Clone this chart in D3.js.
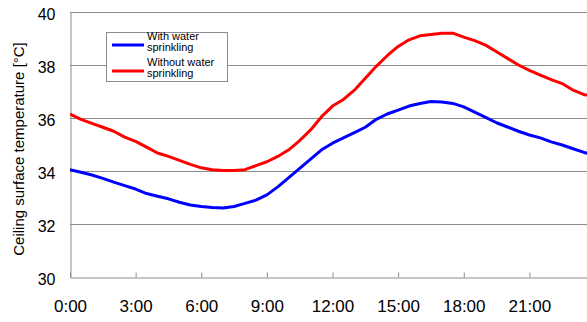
<!DOCTYPE html>
<html>
<head>
<meta charset="utf-8">
<script src="https://cdn.jsdelivr.net/npm/d3@7"></script>
<style>
  body { margin: 0; background: #fff; }
  svg { display: block; font-family: "Liberation Sans", Arial, sans-serif; }
</style>
</head>
<body>
<svg width="587" height="322"></svg>
<script>
// hours of the day, read every 30 minutes
const hours = [0, 0.5, 1, 1.5, 2, 2.5, 3, 3.5, 4, 4.5, 5, 5.5, 6, 6.5, 7, 7.5, 8, 8.5, 9, 9.5, 10, 10.5, 11, 11.5,
    12, 12.5, 13, 13.5, 14, 14.5, 15, 15.5, 16, 16.5, 17, 17.5, 18, 18.5, 19, 19.5, 20, 20.5, 21, 21.5, 22, 22.5, 23, 23.5, 24];
const withWater = [34.05, 33.95, 33.85, 33.72, 33.58, 33.45, 33.32, 33.15, 33.05, 32.95, 32.82, 32.72, 32.66, 32.62, 32.6, 32.66, 32.78, 32.9,
    33.1, 33.4, 33.75, 34.1, 34.45, 34.8, 35.05, 35.25, 35.45, 35.65, 35.95, 36.15, 36.3, 36.45, 36.55, 36.62, 36.6, 36.55,
    36.42, 36.22, 36.02, 35.82, 35.66, 35.5, 35.36, 35.25, 35.1, 34.98, 34.84, 34.7, 34.6];
const withoutWater = [36.15, 35.95, 35.8, 35.65, 35.5, 35.28, 35.12, 34.9, 34.68, 34.55, 34.4, 34.25, 34.12, 34.05, 34.02, 34.02, 34.05, 34.2,
    34.35, 34.55, 34.8, 35.15, 35.55, 36.05, 36.45, 36.7, 37.05, 37.5, 37.95, 38.35, 38.7, 38.95, 39.1, 39.15, 39.2, 39.2,
    39.05, 38.92, 38.75, 38.5, 38.25, 38.0, 37.8, 37.62, 37.45, 37.3, 37.05, 36.88, 36.85];
const xTicks = [0, 3, 6, 9, 12, 15, 18, 21];
const xTickLabels = ['0:00', '3:00', '6:00', '9:00', '12:00', '15:00', '18:00', '21:00'];
const yTicks = [30, 32, 34, 36, 38, 40];
const seriesNames = ['With water\nsprinkling', 'Without water\nsprinkling'];
const seriesColors = ['#0000ff', '#ff0000'];

const svg = d3.select('svg');
const plotLeft = 70, plotRight = 595, plotTop = 12, plotBottom = 277;

const x = d3.scaleLinear().domain([0, 24]).range([plotLeft, plotRight]);
const y = d3.scaleLinear().domain([30, 40]).range([plotBottom, plotTop]);

// grid lines
svg.append('g')
    .selectAll('line')
    .data(yTicks.slice(1))
    .join('line')
    .attr('x1', plotLeft)
    .attr('x2', plotRight)
    .attr('y1', d => y(d) + 0.5)
    .attr('y2', d => y(d) + 0.5)
    .attr('stroke', '#8c8c8c')
    .attr('stroke-width', 1);

// x axis
const xAxis = svg.append('g')
    .attr('transform', `translate(0,${plotBottom + 0.5})`)
    .call(d3.axisBottom(x).tickValues(xTicks).tickSizeInner(-5).tickSizeOuter(0).tickFormat((d, i) => xTickLabels[i]));
xAxis.select('.domain').attr('stroke', '#8c8c8c');
xAxis.selectAll('.tick line').attr('stroke', '#8c8c8c');
xAxis.selectAll('.tick text')
    .attr('font-size', '17px')
    .attr('font-family', '"Liberation Sans", Arial, sans-serif')
    .attr('fill', '#000')
    .attr('dy', 0)
    .attr('y', 34);

// y axis
const yAxis = svg.append('g')
    .attr('transform', `translate(${plotLeft + 0.5},0)`)
    .call(d3.axisLeft(y).tickValues(yTicks).tickSize(0).tickPadding(15));
yAxis.select('.domain').attr('stroke', '#8c8c8c');
yAxis.selectAll('.tick text')
    .attr('font-size', '16px')
    .attr('font-family', '"Liberation Sans", Arial, sans-serif')
    .attr('fill', '#000')
    .attr('dy', '0.45em');

svg.append('text')
    .attr('transform', `translate(24,149) rotate(-90)`)
    .attr('text-anchor', 'middle')
    .attr('font-size', '15px')
    .attr('fill', '#000')
    .text('Ceiling surface temperature [°C]');

// lines
const line = d3.line()
    .x((d, i) => x(hours[i]))
    .y(d => y(d));

svg.append('defs').append('clipPath').attr('id', 'plot')
    .append('rect').attr('x', plotLeft).attr('y', 0).attr('width', plotRight - plotLeft).attr('height', plotBottom);

[withWater, withoutWater].forEach((series, k) => {
    svg.append('path')
        .datum(series)
        .attr('clip-path', 'url(#plot)')
        .attr('fill', 'none')
        .attr('stroke', seriesColors[k])
        .attr('stroke-width', 3)
        .attr('stroke-linejoin', 'round')
        .attr('d', line);
});

// legend
const legend = svg.append('g').attr('transform', 'translate(106,32)');
legend.append('rect')
    .attr('x', 0.5).attr('y', 0.5)
    .attr('width', 121).attr('height', 49)
    .attr('fill', '#fff')
    .attr('stroke', '#8c8c8c');

seriesNames.forEach((name, k) => {
    const g = legend.append('g').attr('transform', `translate(0,${13 + k * 26})`);
    g.append('line')
        .attr('x1', 6).attr('x2', 38)
        .attr('y1', 0).attr('y2', 0)
        .attr('stroke', seriesColors[k])
        .attr('stroke-width', 3);
    name.split('\n').forEach((t, j) => {
        g.append('text')
            .attr('x', 41)
            .attr('y', -5 + j * 11)
            .attr('font-size', '11px')
            .attr('fill', '#000')
            .text(t);
    });
});
</script>
</body>
</html>
